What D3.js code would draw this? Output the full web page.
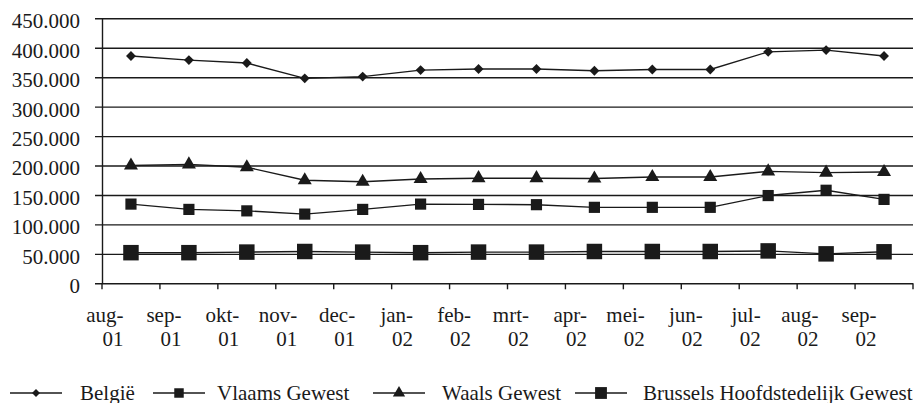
<!DOCTYPE html>
<html>
<head>
<meta charset="utf-8">
<script src="https://cdn.jsdelivr.net/npm/d3@7"></script>
<style>
  html, body { margin: 0; padding: 0; background: #fff; }
  svg { display: block; }
  svg text { font-family: "Liberation Serif", Tinos, "Times New Roman", Times, "Nimbus Roman", "DejaVu Serif", serif !important; fill: #1a1a1a; }
</style>
</head>
<body>
<svg id="chart" width="918" height="403"></svg>
<script>
// Monthly totals, Aug 2001 - Sep 2002
const months = ["aug-01", "sep-01", "okt-01", "nov-01", "dec-01", "jan-02", "feb-02",
                "mrt-02", "apr-02", "mei-02", "jun-02", "jul-02", "aug-02", "sep-02"];

const belgie   = [386000, 379000, 374000, 348000, 351000, 362000, 364000,
                  364000, 361000, 363000, 363000, 393000, 396000, 386000];
const vlaams   = [134500, 125500, 123000, 117500, 125500, 134500, 134000,
                  133500, 129000, 129000, 129000, 149000, 158000, 142500];
const waals    = [200000, 202000, 197000, 175000, 172500, 177000, 178500,
                  178500, 178000, 180500, 180500, 190000, 188000, 189000];
const brussel  = [52000, 52000, 53000, 54000, 53000, 52000, 53000,
                  53000, 54000, 54000, 54000, 55000, 50000, 53500];

const yTicks = [0, 50000, 100000, 150000, 200000, 250000, 300000, 350000, 400000, 450000];

const seriesNames = ["België", "Vlaams Gewest", "Waals Gewest", "Brussels Hoofdstedelijk Gewest"];

const series = [
  { name: seriesNames[0], values: belgie,  symbol: d3.symbolDiamond2, size: 62,  legendSize: 40 },
  { name: seriesNames[1], values: vlaams,  symbol: d3.symbolSquare,   size: 125, legendSize: 90 },
  { name: seriesNames[2], values: waals,   symbol: d3.symbolTriangle, size: 85,  legendSize: 65 },
  { name: seriesNames[3], values: brussel, symbol: d3.symbolSquare,   size: 240, legendSize: 140 }
];

// Legend layout: where each key line starts and where its label starts
const legendLineX = [10, 153, 373, 575];
const legendTextX = [80, 217, 442, 643];

const svg = d3.select("#chart");
const ink = "#1a1a1a";
const serif = "'Liberation Serif', Tinos, 'Times New Roman', Times, 'Nimbus Roman', 'DejaVu Serif', serif";

const x = d3.scaleBand().domain(months).range([102, 913]).padding(0);
const y = d3.scaleLinear().domain([0, 450000]).range([283.3, 18.3]);

// Horizontal gridlines with short outer ticks on the left
const yAxis = d3.axisLeft(y)
  .tickValues(yTicks)
  .tickSize(-(913 - 95))
  .tickSizeOuter(0)
  .tickFormat(d => d3.format(",")(d).replace(/,/g, "."));

const gy = svg.append("g")
  .attr("transform", "translate(95,0)")
  .call(yAxis)
  .attr("font-family", serif)
  .attr("font-size", 21);
gy.select(".domain").remove();
gy.selectAll(".tick line").attr("stroke", ink).attr("stroke-width", 1.4);
gy.selectAll(".tick text")
  .attr("x", -15)
  .attr("dy", "0.45em")
  .attr("fill", ink);

// Vertical axis line
svg.append("line")
  .attr("x1", 102.5).attr("x2", 102.5)
  .attr("y1", y(450000)).attr("y2", y(0))
  .attr("stroke", ink).attr("stroke-width", 1.4);

// Category tick marks between months
const edges = months.map(m => x(m)).concat([x.range()[1]]);
svg.append("g").selectAll("line")
  .data(edges)
  .join("line")
  .attr("x1", d => d).attr("x2", d => d)
  .attr("y1", y(0)).attr("y2", y(0) + 6)
  .attr("stroke", ink).attr("stroke-width", 1.4);

// Two-line month labels
const labels = svg.append("g")
  .attr("font-family", serif)
  .attr("font-size", 21)
  .selectAll("text")
  .data(months)
  .join("text")
  .attr("text-anchor", "end")
  .attr("transform", d => `translate(${x(d) + x.bandwidth() / 2 - 7.5},0)`);
labels.append("tspan").attr("x", 0).attr("y", 322).text(d => d.split("-")[0] + "-");
labels.append("tspan").attr("x", 0).attr("y", 346).text(d => d.split("-")[1]);

// Series lines and markers
const line = d3.line()
  .x((d, i) => x(months[i]) + x.bandwidth() / 2)
  .y(d => y(d));

series.forEach(s => {
  const g = svg.append("g");
  g.append("path")
    .datum(s.values)
    .attr("d", line)
    .attr("fill", "none")
    .attr("stroke", ink)
    .attr("stroke-width", 1.4);
  g.selectAll("path.mark")
    .data(s.values)
    .join("path")
    .attr("class", "mark")
    .attr("d", d3.symbol().type(s.symbol).size(s.size))
    .attr("transform", (d, i) => `translate(${x(months[i]) + x.bandwidth() / 2},${y(d)})`)
    .attr("fill", ink);
});

// Legend
const legendY = 393;
const legend = svg.append("g")
  .attr("font-family", serif)
  .attr("font-size", 21);
series.forEach((s, i) => {
  const item = legend.append("g");
  item.append("line")
    .attr("x1", legendLineX[i]).attr("x2", legendLineX[i] + 52)
    .attr("y1", legendY).attr("y2", legendY)
    .attr("stroke", ink).attr("stroke-width", 1.4);
  item.append("path")
    .attr("d", d3.symbol().type(s.symbol).size(s.legendSize))
    .attr("transform", `translate(${legendLineX[i] + 26},${legendY})`)
    .attr("fill", ink);
  item.append("text")
    .attr("x", legendTextX[i])
    .attr("y", legendY + 6.5)
    .text(s.name);
});
</script>
</body>
</html>
